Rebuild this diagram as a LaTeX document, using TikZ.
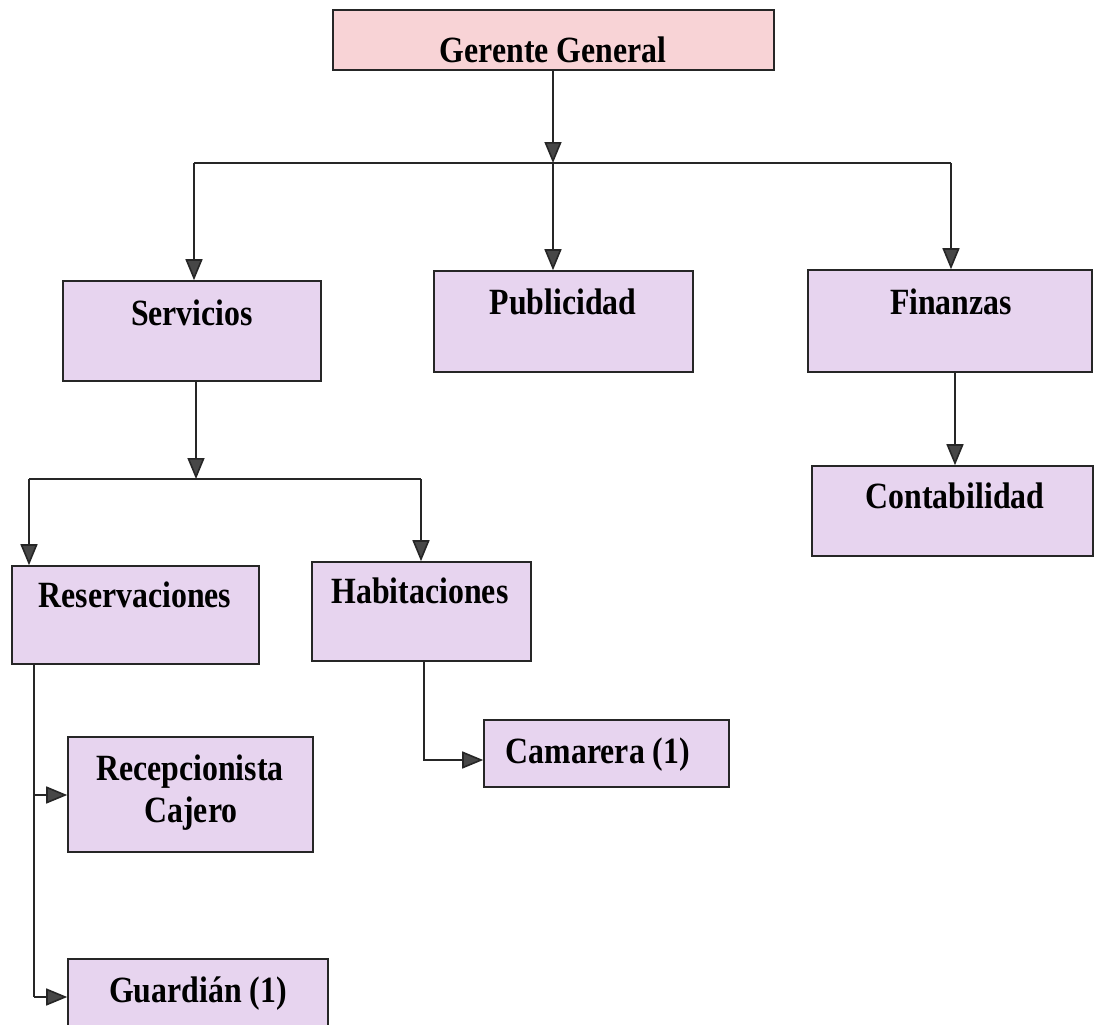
\documentclass[tikz,border=0pt]{standalone}
\usepackage{fontspec}
\setmainfont{Liberation Serif}[FakeStretch=0.86]
\usetikzlibrary{arrows.meta}
\definecolor{pinkfill}{HTML}{F8D3D6}
\definecolor{lilac}{HTML}{E7D4EF}
\definecolor{ink}{HTML}{262626}
\begin{document}
\begin{tikzpicture}[x=1pt,y=-1pt,
  box/.style={draw=ink, line width=1.6pt, inner sep=0pt, fill=lilac},
  lbl/.style={font=\fontsize{37}{40}\selectfont\bfseries, anchor=base, inner sep=0pt, text=black},
  conn/.style={draw=ink, line width=1.6pt},
  arr/.style={conn, -{Triangle[length=21pt,width=17pt,fill=ink!85]}}]
\fill[white] (0,0) rectangle (1095,1025);
\useasboundingbox (0,0) rectangle (1095,1025);
% boxes
\node[box, fill=pinkfill, minimum width=441pt, minimum height=60pt] (ger) at (553.5,40) {};
\node[box, minimum width=258pt, minimum height=100pt] (serv) at (192,331) {};
\node[box, minimum width=259pt, minimum height=101pt] (pub) at (563.5,321.5) {};
\node[box, minimum width=284pt, minimum height=102pt] (fin) at (950,321) {};
\node[box, minimum width=281pt, minimum height=90pt] (cont) at (952.5,511) {};
\node[box, minimum width=247pt, minimum height=98pt] (res) at (135.5,615) {};
\node[box, minimum width=219pt, minimum height=99pt] (hab) at (421.5,611.5) {};
\node[box, minimum width=245pt, minimum height=115pt] (rec) at (190.5,794.5) {};
\node[box, minimum width=245pt, minimum height=67pt] (cam) at (606.5,753.5) {};
\node[box, minimum width=260pt, minimum height=110pt] (gua) at (198,1014) {};
% labels
\node[lbl] (tger) at (553,63) {Gerente General};
\node[lbl] (tserv) at (192,325) {Servicios};
\node[lbl] (tpub) at (563,314) {Publicidad};
\node[lbl] (tfin) at (951,314) {Finanzas};
\node[lbl] (tcont) at (955,508) {Contabilidad};
\node[lbl] (tres) at (135,607) {Reservaciones};
\node[lbl] (thab) at (420,603) {Habitaciones};
\node[lbl] (trec1) at (190,780) {Recepcionista};
\node[lbl] (trec2) at (191,822) {Cajero};
\node[lbl] (tcam) at (598,763) {Camarera (1)};
\node[lbl] (tgua) at (198,1002) {Guardián (1)};
% bus coordinates
\coordinate (b1) at (553,163);
\coordinate (b1L) at (194,163);
\coordinate (b1R) at (951,163);
\coordinate (b2) at (196,479);
\coordinate (b2L) at (29,479);
\coordinate (b2R) at (421,479);
\coordinate (f1) at (955,400);
\coordinate (r1) at (34,795);
\coordinate (r2) at (34,997);
\coordinate (h1) at (424,760);
% connectors
\draw[arr] (ger.south -| b1) -- (b1);
\draw[conn] (b1L) -- (b1R);
\draw[arr] (b1) -- (b1 |- pub.north);
\draw[arr] (b1L) -- (b1L |- serv.north);
\draw[arr] (b1R) -- (b1R |- fin.north);
\draw[arr] (serv.south -| b2) -- (b2);
\draw[conn] (b2L) -- (b2R);
\draw[arr] (b2L) -- (b2L |- res.north);
\draw[arr] (b2R) -- (b2R |- hab.north);
\draw[arr] (fin.south -| f1) -- (f1 |- cont.north);
\draw[conn] (res.south -| r1) -- (r2);
\draw[arr] (r1) -- (r1 -| rec.west);
\draw[arr] (r2) -- (r2 -| gua.west);
\draw[arr] (hab.south -| h1) -- (h1) -- (h1 -| cam.west);
\end{tikzpicture}
\end{document}
